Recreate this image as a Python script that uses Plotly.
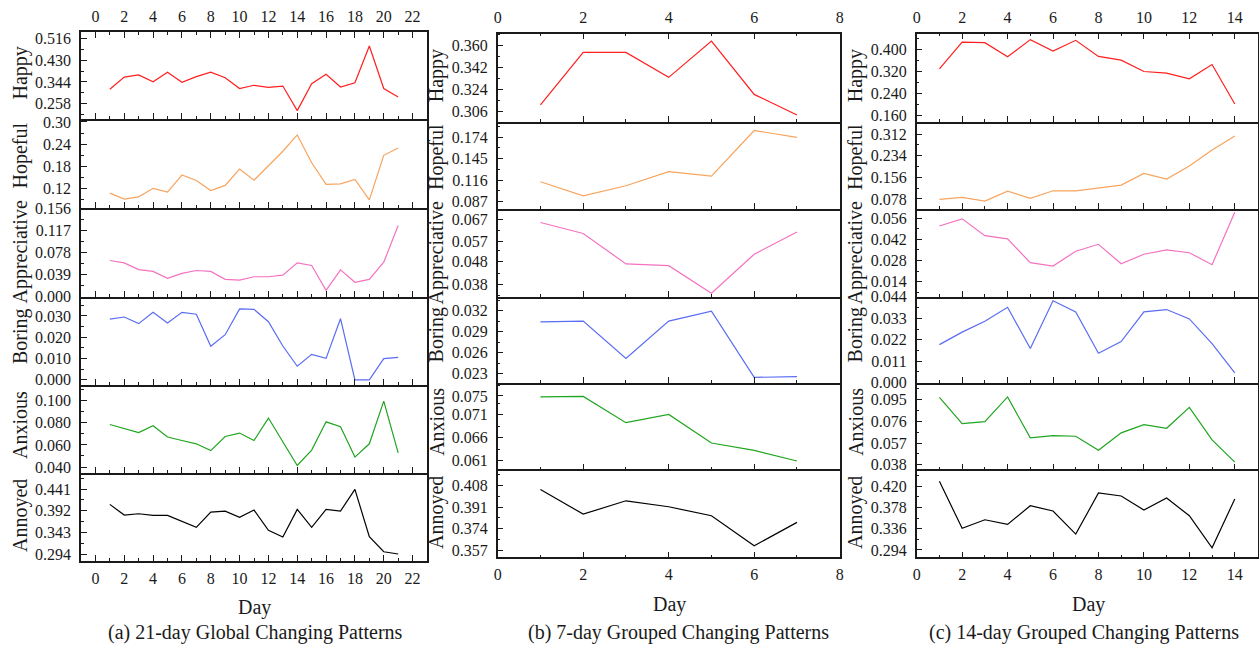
import plotly.graph_objects as go

W, H = 1259, 647
FONT = "Liberation Serif, Times New Roman, serif"

emotions = ["Happy", "Hopeful", "Appreciative", "Boring", "Anxious", "Annoyed"]
colors = ["#ff1f1f", "#f7a45e", "#f472c0", "#5a6cf2", "#1fa51f", "#000000"]

# ---------------- (a) 21-day global ----------------
days_a = list(range(1, 22))
happy_a = [0.315, 0.363, 0.372, 0.345, 0.382, 0.343, 0.365, 0.383, 0.361, 0.318, 0.331,
           0.323, 0.328, 0.231, 0.337, 0.374, 0.324, 0.341, 0.486, 0.318, 0.285]
hopeful_a = [0.108, 0.092, 0.098, 0.121, 0.111, 0.157, 0.142, 0.115, 0.129, 0.173, 0.143,
             0.183, 0.221, 0.265, 0.190, 0.132, 0.133, 0.145, 0.090, 0.210, 0.230]
appreciative_a = [0.0639, 0.0597, 0.048, 0.0447, 0.0325, 0.0412, 0.0464, 0.0447, 0.0308, 0.0296, 0.0354,
                  0.0354, 0.0383, 0.0597, 0.0552, 0.0116, 0.0476, 0.0256, 0.0308, 0.0609, 0.1253]
boring_a = [0.0285, 0.0295, 0.0264, 0.0317, 0.0267, 0.0317, 0.0308, 0.0158, 0.0212, 0.0333, 0.0331,
            0.0273, 0.0159, 0.0064, 0.0120, 0.0101, 0.0287, 0.0, 0.0, 0.0100, 0.0106]
anxious_a = [0.0785, 0.0752, 0.0712, 0.0773, 0.0671, 0.064, 0.061, 0.0549, 0.0676, 0.0707, 0.064,
             0.0843, 0.0634, 0.0414, 0.0553, 0.0809, 0.0764, 0.049, 0.061, 0.0996, 0.0528]
annoyed_a = [0.4064, 0.3823, 0.3853, 0.3817, 0.3817, 0.3673, 0.3547, 0.389, 0.3913, 0.3772, 0.3936,
             0.348, 0.333, 0.395, 0.3547, 0.395, 0.3913, 0.440, 0.3335, 0.2998, 0.2947]
ticks_a = [["0.258", "0.344", "0.430", "0.516"],
           ["0.12", "0.18", "0.24", "0.30"],
           ["0.000", "0.039", "0.078", "0.117", "0.156"],
           ["0.000", "0.010", "0.020", "0.030"],
           ["0.040", "0.060", "0.080", "0.100"],
           ["0.294", "0.343", "0.392", "0.441"]]
xticks_a = [0, 2, 4, 6, 8, 10, 12, 14, 16, 18, 20, 22]

# ---------------- (b) 7-day grouped ----------------
days_b = list(range(1, 8))
happy_b = [0.3111, 0.3543, 0.3543, 0.3338, 0.3637, 0.3198, 0.3029]
hopeful_b = [0.1139, 0.0948, 0.1085, 0.1276, 0.1215, 0.1829, 0.1736]
appreciative_b = [0.0655, 0.0606, 0.0471, 0.0463, 0.0341, 0.0514, 0.0613]
boring_b = [0.0304, 0.0305, 0.0252, 0.0305, 0.0319, 0.0225, 0.0226]
anxious_b = [0.0748, 0.0749, 0.0692, 0.0710, 0.0648, 0.0632, 0.0609]
annoyed_b = [0.4049, 0.3855, 0.396, 0.3913, 0.3842, 0.3606, 0.379]
ticks_b = [["0.306", "0.324", "0.342", "0.360"],
           ["0.087", "0.116", "0.145", "0.174"],
           ["0.038", "0.048", "0.057", "0.067"],
           ["0.023", "0.026", "0.029", "0.032"],
           ["0.061", "0.066", "0.071", "0.075"],
           ["0.357", "0.374", "0.391", "0.408"]]
xticks_b = [0, 2, 4, 6, 8]

# ---------------- (c) 14-day grouped ----------------
days_c = list(range(1, 15))
happy_c = [0.3288, 0.4264, 0.4242, 0.3728, 0.4352, 0.3934, 0.4327, 0.3739, 0.3604, 0.3189, 0.3127,
           0.2921, 0.3446, 0.2004]
hopeful_c = [0.0766, 0.0838, 0.0704, 0.1065, 0.0802, 0.1076, 0.1076, 0.1174, 0.1282, 0.1704, 0.1499,
             0.1968, 0.2546, 0.3051]
appreciative_c = [0.0508, 0.0556, 0.0444, 0.0423, 0.0265, 0.0243, 0.0341, 0.0387, 0.0258, 0.0321, 0.0350,
                  0.0331, 0.0252, 0.0600]
boring_c = [0.0195, 0.0259, 0.0315, 0.0387, 0.0175, 0.0420, 0.0363, 0.0151, 0.0211, 0.0363, 0.0375,
            0.0327, 0.0200, 0.0050]
anxious_c = [0.0969, 0.0740, 0.0757, 0.0973, 0.0615, 0.0635, 0.0629, 0.0507, 0.0659, 0.0731, 0.0699,
             0.0882, 0.0598, 0.0403]
annoyed_c = [0.4293, 0.3366, 0.3535, 0.3445, 0.3812, 0.3707, 0.3253, 0.4062, 0.4003, 0.3727, 0.3963,
             0.3614, 0.2983, 0.3944]
ticks_c = [["0.160", "0.240", "0.320", "0.400"],
           ["0.078", "0.156", "0.234", "0.312"],
           ["0.014", "0.028", "0.042", "0.056"],
           ["0.000", "0.011", "0.022", "0.033", "0.044"],
           ["0.038", "0.057", "0.076", "0.095"],
           ["0.294", "0.336", "0.378", "0.420"]]
xticks_c = [0, 2, 4, 6, 8, 10, 12, 14]

captions = ["(a) 21-day Global Changing Patterns",
            "(b) 7-day Grouped Changing Patterns",
            "(c) 14-day Grouped Changing Patterns"]

# ---------------- layout geometry (pixels) ----------------
panels = [
    dict(days=days_a, series=[happy_a, hopeful_a, appreciative_a, boring_a, anxious_a, annoyed_a],
         ticks=ticks_a, xticks=xticks_a, xrange=[-1, 23], xpx=[81, 427],
         rows=[32, 119, 208, 297, 385, 473, 561],
         yranges=[[0.198, 0.541], [0.068, 0.308], [-0.0002, 0.1562], [-0.0024, 0.0389],
                  [0.0346, 0.1142], [0.279, 0.477]],
         day_xy=[254, 607], cap_xy=[256, 632]),
    dict(days=days_b, series=[happy_b, hopeful_b, appreciative_b, boring_b, anxious_b, annoyed_b],
         ticks=ticks_b, xticks=xticks_b, xrange=[0, 8], xpx=[497.7, 839.7],
         rows=[33.5, 121.5, 209, 296.5, 383, 469.3, 557.3],
         yranges=[[0.2975, 0.3699], [0.0772, 0.195], [0.0326, 0.0715], [0.0217, 0.034],
                  [0.0591, 0.0778], [0.3515, 0.4208]],
         day_xy=[669, 604], cap_xy=[678, 632]),
    dict(days=days_c, series=[happy_c, hopeful_c, appreciative_c, boring_c, anxious_c, annoyed_c],
         ticks=ticks_c, xticks=xticks_c, xrange=[0, 15], xpx=[916.7, 1257.5],
         rows=[33.5, 121.5, 209, 296.5, 383, 469.3, 557.3],
         yranges=[[0.1365, 0.4576], [0.0419, 0.3575], [0.0041, 0.0621], [-0.0002, 0.0442],
                  [0.034, 0.1095], [0.2796, 0.4529]],
         day_xy=[1088, 604], cap_xy=[1084, 632]),
]
title_shift = [-2, -8, 0, -5, -4, -1]   # vertical nudges of the y titles (px)

LINE = "#1a1a1a"
tickfont = dict(family=FONT, size=16, color="#1a1a1a")

fig = go.Figure()
layout = dict(width=W, height=H, margin=dict(l=0, r=0, t=0, b=0, autoexpand=False),
              paper_bgcolor="white", plot_bgcolor="white", showlegend=False,
              font=dict(family=FONT, color="#1a1a1a"))
annotations = []

for p, P in enumerate(panels):
    xd = [P["xpx"][0] / W, P["xpx"][1] / W]
    for r in range(6):
        k = p * 6 + r + 1
        xname = "xaxis" if k == 1 else f"xaxis{k}"
        yname = "yaxis" if k == 1 else f"yaxis{k}"
        xs = "x" if k == 1 else f"x{k}"
        ys = "y" if k == 1 else f"y{k}"
        top_px, bot_px = P["rows"][r], P["rows"][r + 1]
        yd = [1 - bot_px / H, 1 - top_px / H]

        fig.add_trace(go.Scatter(x=P["days"], y=P["series"][r], mode="lines",
                                 line=dict(color=colors[r], width=1.2),
                                 xaxis=xs, yaxis=ys, hoverinfo="skip"))

        xa = dict(domain=xd, anchor=ys, range=P["xrange"], showgrid=False, zeroline=False,
                  showline=True, linecolor=LINE, linewidth=1.5,
                  tickmode="array", tickvals=P["xticks"],
                  ticks="inside", ticklen=6, tickwidth=1.2, tickcolor=LINE,
                  minor=dict(dtick=1, tick0=0, ticks="inside", ticklen=3, tickwidth=1, tickcolor=LINE),
                  tickfont=tickfont, showticklabels=False, mirror=False, automargin=False)
        if r == 0:
            xa.update(side="top", showticklabels=True, mirror="ticks", ticklabelstandoff=2)
        if r == 5:
            xa.update(showticklabels=True, ticklabelstandoff=2)
        layout[xname] = xa

        labels = P["ticks"][r]
        vals = [float(s) for s in labels]
        step = (vals[-1] - vals[0]) / (len(vals) - 1)
        minor_vals = [vals[0] - step / 2] + [v + step / 2 for v in vals]
        ya = dict(domain=yd, anchor=xs, range=P["yranges"][r], showgrid=False, zeroline=False,
                  showline=True, linecolor=LINE, linewidth=1.5, mirror=True,
                  tickmode="array", tickvals=vals, ticktext=labels,
                  ticks="inside", ticklen=6, tickwidth=1.2, tickcolor=LINE,
                  minor=dict(tickmode="array", tickvals=minor_vals, ticks="inside", ticklen=3,
                             tickwidth=1, tickcolor=LINE),
                  tickfont=tickfont, ticklabelstandoff=5, automargin=False)
        layout[yname] = ya

        annotations.append(dict(text=emotions[r], xref="paper", yref="paper",
                                x=(P["xpx"][0] - 61) / W,
                                y=1 - ((top_px + bot_px) / 2 + title_shift[r]) / H,
                                xanchor="center", yanchor="middle", textangle=-90,
                                showarrow=False, font=dict(family=FONT, size=20, color="#1a1a1a")))

    annotations.append(dict(text="Day", xref="paper", yref="paper",
                            x=P["day_xy"][0] / W, y=1 - P["day_xy"][1] / H,
                            xanchor="center", yanchor="middle", showarrow=False,
                            font=dict(family=FONT, size=20, color="#1a1a1a")))
    annotations.append(dict(text=captions[p], xref="paper", yref="paper",
                            x=P["cap_xy"][0] / W, y=1 - P["cap_xy"][1] / H,
                            xanchor="center", yanchor="middle", showarrow=False,
                            font=dict(family=FONT, size=20, color="#1a1a1a")))

layout["annotations"] = annotations
fig.update_layout(**layout)
fig.write_html("out.html", config={"displayModeBar": False},
               post_script="document.body.style.margin='0px';document.body.style.overflow='hidden';")
